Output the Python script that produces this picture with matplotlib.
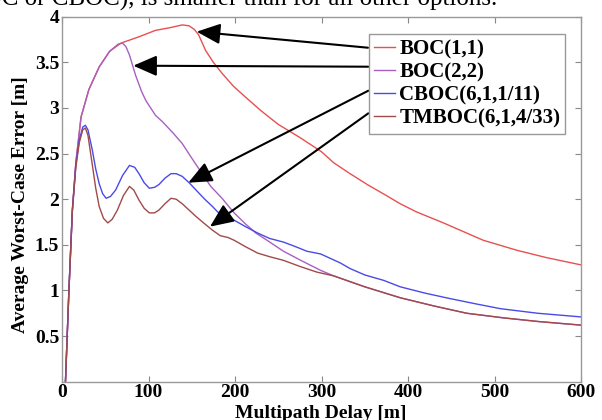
import numpy as np
import matplotlib
matplotlib.use('Agg')
import matplotlib.pyplot as plt
from matplotlib.ticker import FuncFormatter

# Valores (retardo multitrayecto [m], error [m])
x_boc11 = [4, 8, 12, 16, 22, 31, 43, 55, 68, 89, 108, 125, 139, 147, 153, 158, 166,
           175, 185, 198, 212, 230, 250, 276, 300, 314, 333, 353, 375, 391, 410,
           441, 487, 526, 560, 600]
y_boc11 = [0.0, 1.0, 1.88, 2.4, 2.9, 3.2, 3.45, 3.62, 3.71, 3.78, 3.85, 3.88, 3.91, 3.90,
           3.86, 3.80, 3.63, 3.50, 3.38, 3.24, 3.12, 2.97, 2.82, 2.67, 2.52, 2.40,
           2.28, 2.16, 2.04, 1.95, 1.86, 1.74, 1.55, 1.44, 1.36, 1.28]

x_boc22 = [4, 8, 12, 16, 22, 31, 43, 55, 65, 70, 74, 78, 85, 92, 97, 108, 116, 128, 139,
           150, 162, 172, 185, 199, 212, 224, 237, 256, 276, 299, 314, 350, 391, 430,
           468, 510, 550, 600]
y_boc22 = [0.0, 1.0, 1.88, 2.4, 2.9, 3.2, 3.45, 3.62, 3.70, 3.71, 3.67, 3.58, 3.36, 3.18,
           3.08, 2.92, 2.85, 2.73, 2.61, 2.45, 2.28, 2.14, 2.01, 1.85, 1.73, 1.63, 1.55,
           1.43, 1.33, 1.22, 1.16, 1.04, 0.92, 0.83, 0.75, 0.70, 0.66, 0.62]

x_cboc = [4, 8, 12, 16, 20, 24, 27, 30, 35, 39, 43, 47, 51, 56, 62, 70, 78, 84, 89, 95,
          101, 107, 112, 119, 126, 132, 139, 147, 155, 165, 174, 180, 190, 199, 212,
          226, 240, 256, 270, 283, 299, 322, 333, 350, 372, 391, 420, 449, 480, 507,
          550, 600]
y_cboc = [0.0, 1.0, 1.88, 2.38, 2.65, 2.79, 2.81, 2.76, 2.54, 2.33, 2.17, 2.06, 2.01,
          2.03, 2.10, 2.26, 2.37, 2.35, 2.28, 2.18, 2.12, 2.13, 2.16, 2.23, 2.28, 2.28,
          2.25, 2.18, 2.10, 2.00, 1.92, 1.86, 1.81, 1.77, 1.70, 1.63, 1.57, 1.53, 1.48,
          1.43, 1.40, 1.30, 1.24, 1.17, 1.11, 1.04, 0.97, 0.91, 0.85, 0.80, 0.75, 0.71]

x_tmboc = [4, 8, 12, 16, 20, 24, 27, 30, 35, 39, 43, 48, 53, 58, 64, 71, 78, 83, 89, 95,
           101, 107, 112, 119, 126, 132, 139, 147, 155, 165, 174, 183, 192, 199, 212,
           226, 240, 256, 276, 295, 314, 350, 391, 430, 468, 510, 550, 600]
y_tmboc = [0.0, 1.0, 1.88, 2.35, 2.62, 2.76, 2.78, 2.70, 2.38, 2.12, 1.92, 1.79, 1.74,
           1.78, 1.88, 2.04, 2.14, 2.10, 1.99, 1.90, 1.85, 1.85, 1.88, 1.95, 2.01, 2.00,
           1.95, 1.88, 1.81, 1.73, 1.66, 1.60, 1.58, 1.55, 1.48, 1.41, 1.37, 1.33, 1.26,
           1.20, 1.16, 1.04, 0.92, 0.83, 0.75, 0.70, 0.66, 0.62]

etiquetas = ['BOC(1,1)', 'BOC(2,2)', 'CBOC(6,1,1/11)', 'TMBOC(6,1,4/33)']
colores = ['#e85050', '#a860c0', '#4a4ae8', '#a04a4a']

serif = ['Liberation Serif', 'DejaVu Serif']
plt.rcParams['font.family'] = serif
plt.rcParams['font.weight'] = 'bold'

fig = plt.figure(figsize=(6.02, 4.2), dpi=100)
W, H = 602, 420
ax = fig.add_axes([62 / W, 1 - 381.7 / H, 519 / W, 365 / H])

series = [(x_boc11, y_boc11), (x_boc22, y_boc22), (x_cboc, y_cboc), (x_tmboc, y_tmboc)]
for (xs, ys), lab, col in zip(series, etiquetas, colores):
    ax.plot(xs, ys, color=col, lw=1.0, label=lab)

ax.set_xlim(0, 600)
ax.set_ylim(0, 4)
ax.set_xticks([0, 100, 200, 300, 400, 500, 600])
ax.set_yticks([0.5, 1, 1.5, 2, 2.5, 3, 3.5, 4])
ax.yaxis.set_major_formatter(FuncFormatter(lambda v, p: f'{v:g}'))
ax.tick_params(direction='in', top=True, right=True, length=4, width=0.8,
               color='#888888', labelsize=14, pad=2)
for s in ax.spines.values():
    s.set_color('#999999')
    s.set_linewidth(1.0)

leg = ax.legend(loc='upper left', bbox_to_anchor=(0.5915, 0.9526), borderaxespad=0,
                fancybox=False, framealpha=1, edgecolor='#999999', fontsize=15,
                handlelength=1.0, handletextpad=0.2, labelspacing=0.15, borderpad=0.25)
leg.get_frame().set_linewidth(1.0)

# flechas de la leyenda a cada curva
flechas = [((155.7, 3.836), (353.8, 3.66)),
           ((82.4, 3.463), (354.1, 3.452)),
           ((146.0, 2.181), (354.1, 3.189)),
           ((171.1, 1.699), (354.1, 2.941))]
for punta, cola in flechas:
    ax.annotate('', xy=punta, xytext=cola,
                arrowprops=dict(arrowstyle='-|>,head_length=0.8,head_width=0.35',
                                color='k', lw=1.5, mutation_scale=18,
                                shrinkA=0, shrinkB=0))

fig.text(21 / W, 1 - 205 / H, 'Average Worst-Case Error [m]', rotation=90,
         ha='center', va='center', fontsize=14, fontweight='bold')
fig.text(321 / W, 1 - 405 / H, 'Multipath Delay [m]', ha='center', va='top',
         fontsize=14, fontweight='bold')
fig.text(497 / W, 1 - 6 / H, 'BOC or CBOC), is smaller than for all other options.',
         ha='right', va='baseline', fontsize=18, fontweight='normal')

fig.savefig('out.png', dpi=100)
